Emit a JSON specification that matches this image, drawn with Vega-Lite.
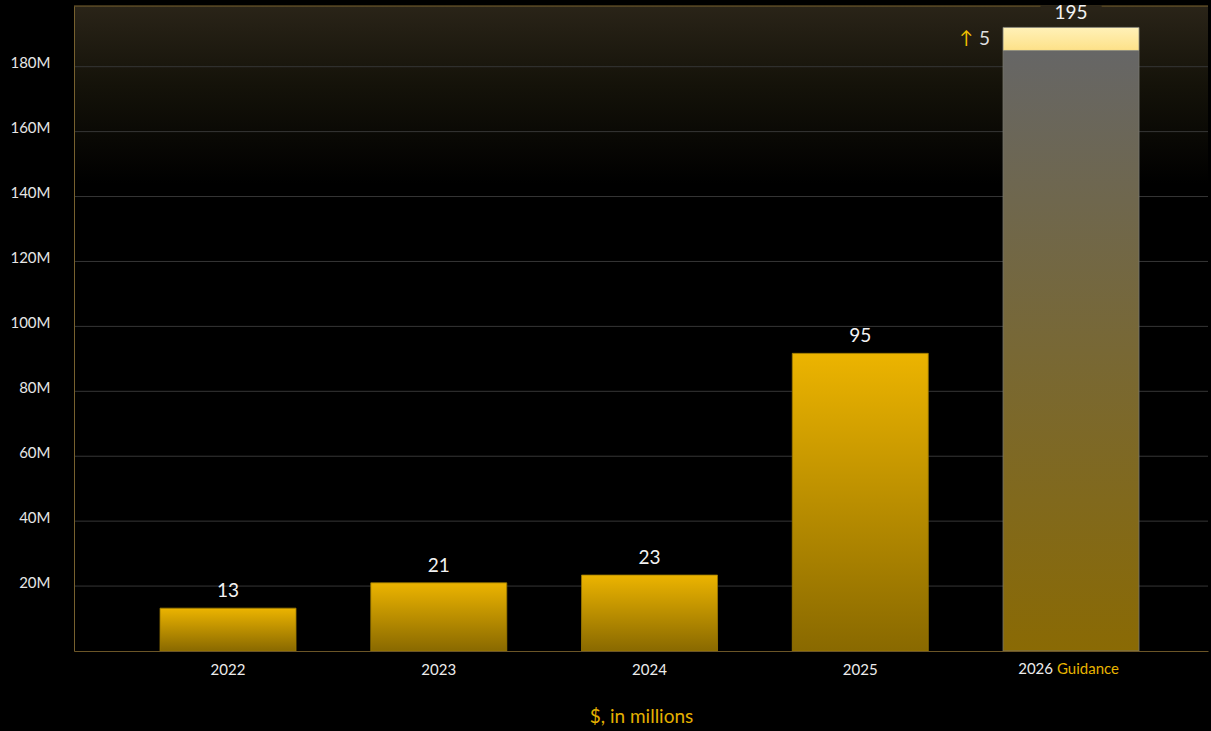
{
  "$schema": "https://vega.github.io/schema/vega-lite/v6.json",
  "width": 1134,
  "height": 645,
  "autosize": {"type": "none"},
  "padding": {"left": 74, "top": 6, "right": 3, "bottom": 80},
  "background": "#000000",
  "config": {
    "view": {"stroke": null},
    "font": "Lato",
    "text": {"font": "Lato"}
  },
  "data": {
    "values": [
      {"year": "2022", "value": 13.2, "label": "13"},
      {"year": "2023", "value": 21.0, "label": "21"},
      {"year": "2024", "value": 23.4, "label": "23"},
      {"year": "2025", "value": 91.7, "label": "95"},
      {"year": "2026", "value": 185.0, "top": 192.1, "label": "195", "delta": "5"}
    ]
  },
  "layer": [
    {
      "data": {"values": [{"band": "glow"}]},
      "mark": {
        "type": "rect",
        "fill": {
          "gradient": "linear", "x1": 0, "y1": 0, "x2": 0, "y2": 1,
          "stops": [
            {"offset": 0, "color": "#2a2418"},
            {"offset": 0.45, "color": "#141209"},
            {"offset": 1, "color": "#000000"}
          ]
        }
      },
      "encoding": {
        "y": {
          "datum": 198.7, "type": "quantitative",
          "scale": {"domain": [0, 198.7], "nice": false},
          "axis": {
            "values": [20, 40, 60, 80, 100, 120, 140, 160, 180],
            "labelExpr": "datum.value + 'M'",
            "labelFontSize": 15,
            "labelColor": "#e6e6e6",
            "labelPadding": 24,
            "labelOffset": -4,
            "ticks": false,
            "domain": true,
            "domainColor": "#76602e",
            "domainWidth": 1,
            "grid": false,
            "zindex": 1,
            "title": null
          }
        },
        "y2": {"datum": 144}
      }
    },
    {
      "mark": {"type": "bar", "opacity": 0},
      "encoding": {
        "x": {
          "field": "year", "type": "nominal",
          "scale": {"paddingInner": 0.3547, "paddingOuter": 0.3677, "align": 0.555},
          "axis": {
            "labelExpr": "datum.value == '2026' ? '' : datum.value",
            "labelAngle": 0,
            "labelFontSize": 15,
            "labelColor": "#ececec",
            "labelPadding": 11,
            "ticks": false,
            "domain": true,
            "domainColor": "#6b5527",
            "domainWidth": 1,
            "grid": false,
            "zindex": 1,
            "title": "$, in millions",
            "titleColor": "#e3b000",
            "titleFontSize": 19,
            "titleFontWeight": "normal",
            "titlePadding": 30
          }
        },
        "y": {"field": "value", "type": "quantitative"}
      }
    },
    {
      "data": {"values": [{"g": 20}, {"g": 40}, {"g": 60}, {"g": 80}, {"g": 100}, {"g": 120}, {"g": 140}, {"g": 160}, {"g": 180}]},
      "mark": {"type": "rule", "color": "#363636", "strokeWidth": 1},
      "encoding": {
        "y": {"field": "g", "type": "quantitative"}
      }
    },
    {
      "data": {"values": [{"band": "frame"}]},
      "mark": {"type": "rule", "color": "#7d6430", "strokeWidth": 1},
      "encoding": {
        "y": {"datum": 198.7, "type": "quantitative"}
      }
    },
    {
      "transform": [{"filter": "datum.year == '2026'"}],
      "mark": {"type": "bar", "fill": "#2a2418", "width": {"band": 0.45}},
      "encoding": {
        "x": {"field": "year", "type": "nominal"},
        "y": {"datum": 198.9, "type": "quantitative"},
        "y2": {"datum": 197.2}
      }
    },
    {
      "transform": [{"filter": "datum.year != '2026'"}],
      "mark": {
        "type": "bar",
        "fill": {
          "gradient": "linear", "x1": 0, "y1": 0, "x2": 0, "y2": 1,
          "stops": [
            {"offset": 0, "color": "#ecb400"},
            {"offset": 1, "color": "#896900"}
          ]
        },
        "stroke": "#9c7a00",
        "strokeWidth": 0.8
      },
      "encoding": {
        "x": {"field": "year", "type": "nominal"},
        "y": {"field": "value", "type": "quantitative"}
      }
    },
    {
      "transform": [{"filter": "datum.year == '2026'"}],
      "mark": {
        "type": "bar",
        "fill": {
          "gradient": "linear", "x1": 0, "y1": 0, "x2": 0, "y2": 1,
          "stops": [
            {"offset": 0, "color": "#666666"},
            {"offset": 1, "color": "#8a6a04"}
          ]
        },
        "stroke": "#7a7a70",
        "strokeWidth": 0.8
      },
      "encoding": {
        "x": {"field": "year", "type": "nominal"},
        "y": {"field": "value", "type": "quantitative"}
      }
    },
    {
      "transform": [{"filter": "datum.year == '2026'"}],
      "mark": {
        "type": "bar",
        "fill": {
          "gradient": "linear", "x1": 0, "y1": 0, "x2": 0, "y2": 1,
          "stops": [
            {"offset": 0, "color": "#fff1b8"},
            {"offset": 1, "color": "#fde188"}
          ]
        },
        "stroke": "#8a8a80",
        "strokeWidth": 0.8
      },
      "encoding": {
        "x": {"field": "year", "type": "nominal"},
        "y": {"field": "top", "type": "quantitative"},
        "y2": {"field": "value"}
      }
    },
    {
      "transform": [{"filter": "datum.year != '2026'"}],
      "mark": {"type": "text", "fontSize": 19, "baseline": "alphabetic", "dy": -11, "color": "#f2f2f2"},
      "encoding": {
        "x": {"field": "year", "type": "nominal"},
        "y": {"field": "value", "type": "quantitative"},
        "text": {"field": "label"}
      }
    },
    {
      "transform": [{"filter": "datum.year == '2026'"}],
      "mark": {"type": "text", "fontSize": 19, "baseline": "alphabetic", "dy": -8, "color": "#f2f2f2"},
      "encoding": {
        "x": {"field": "year", "type": "nominal"},
        "y": {"field": "top", "type": "quantitative"},
        "text": {"field": "label"}
      }
    },
    {
      "transform": [{"filter": "datum.year == '2026'"}],
      "mark": {"type": "text", "fontSize": 19, "baseline": "middle", "align": "right", "dx": -81, "color": "#dedede"},
      "encoding": {
        "x": {"field": "year", "type": "nominal"},
        "y": {"datum": 188.5, "type": "quantitative"},
        "text": {"field": "delta"}
      }
    },
    {
      "transform": [{"filter": "datum.year == '2026'"}],
      "mark": {"type": "text", "fontSize": 18, "baseline": "middle", "align": "right", "dx": -98, "color": "#f0c000", "text": "↑"},
      "encoding": {
        "x": {"field": "year", "type": "nominal"},
        "y": {"datum": 188.5, "type": "quantitative"}
      }
    },
    {
      "transform": [{"filter": "datum.year == '2026'"}],
      "mark": {"type": "text", "fontSize": 15, "baseline": "middle", "align": "right", "dx": -18, "dy": 18, "color": "#ececec", "text": "2026"},
      "encoding": {
        "x": {"field": "year", "type": "nominal"},
        "y": {"datum": 0, "type": "quantitative"}
      }
    },
    {
      "transform": [{"filter": "datum.year == '2026'"}],
      "mark": {"type": "text", "fontSize": 15, "baseline": "middle", "align": "left", "dx": -14, "dy": 18, "color": "#e8b400", "text": "Guidance"},
      "encoding": {
        "x": {"field": "year", "type": "nominal"},
        "y": {"datum": 0, "type": "quantitative"}
      }
    }
  ]
}
